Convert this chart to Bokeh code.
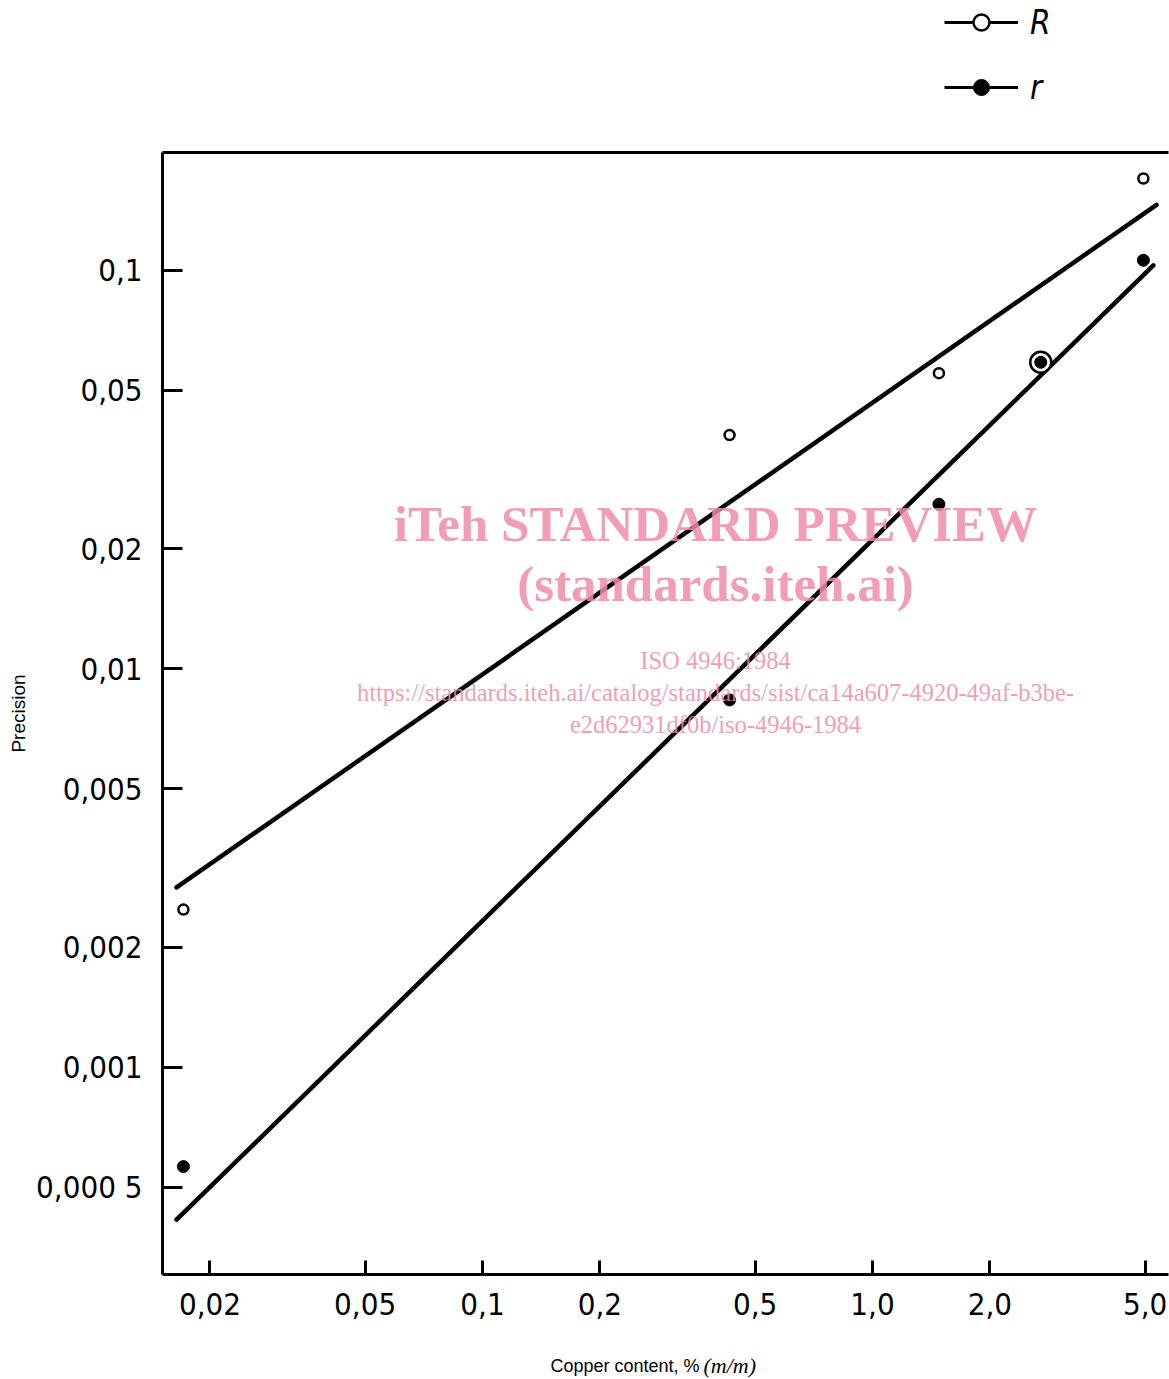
import math
from bokeh.plotting import figure
from bokeh.layouts import column
from bokeh.models import Range1d, FixedTicker, LogAxis, Legend, LegendItem, Label
from bokeh.embed import file_html
from bokeh.resources import INLINE

# ---------------- data ----------------
R_conc = [0.0171, 0.43, 1.48, 2.70, 4.95]          # copper content, % (m/m)
R_prec = [0.00249, 0.0386, 0.0552, 0.0588, 0.170]  # reproducibility R
r_conc = [0.0171, 0.43, 1.48, 2.70, 4.95]
r_prec = [0.000564, 0.00836, 0.0259, 0.0588, 0.106]  # repeatability r

R_fit_x = [0.01642, 5.35]
R_fit_y = [0.00283, 0.146]
r_fit_x = [0.01642, 5.25]
r_fit_y = [0.000415, 0.1029]

x_ticks = [0.02, 0.05, 0.1, 0.2, 0.5, 1.0, 2.0, 5.0]
x_tick_labels = ["0,02", "0,05", "0,1", "0,2", "0,5", "1,0", "2,0", "5,0"]
y_ticks = [0.0005, 0.001, 0.002, 0.005, 0.01, 0.02, 0.05, 0.1]
y_tick_labels = ["0,000 5", "0,001", "0,002", "0,005", "0,01", "0,02", "0,05", "0,1"]

X_LO, X_HI = 0.015113, 5.7413
Y_LO, Y_HI = 0.0003024, 0.19754

# ---------------- layout geometry (page pixels) ----------------
W = 1169
FL, FR, FT, FB = 162, 1168, 152, 1274   # frame edges on the page
HEAD_H = 140                            # legend strip
TOP_B = FT - HEAD_H                     # main figure top border
MAIN_BOTTOM = 1340                      # main figure ends here
FOOT_H = 1379 - MAIN_BOTTOM
MAIN_H = MAIN_BOTTOM - HEAD_H

TICK_FONT = "DejaVu Sans Condensed"


def ax(px):
    return X_LO * 10 ** ((px - FL) / (FR - FL) * math.log10(X_HI / X_LO))


def ay(py):
    return Y_LO * 10 ** ((FB - py) / (FB - FT) * math.log10(Y_HI / Y_LO))


def blank(h):
    # frame is aligned with the main plot's frame by the column layout,
    # so give it the same side borders and a page-pixel range
    f = figure(width=W, height=h, x_range=Range1d(FL, FR), y_range=Range1d(h, 0),
               output_backend="svg", toolbar_location=None,
               x_axis_location=None, y_axis_location=None,
               min_border_left=FL, min_border_right=W - FR,
               min_border_top=0, min_border_bottom=0)
    f.outline_line_color = None
    f.xgrid.visible = False
    f.ygrid.visible = False
    f.background_fill_color = "white"
    f.border_fill_color = "white"
    return f


# ---------------- main plot ----------------
p = figure(width=W, height=MAIN_H, x_axis_type="log", y_axis_type="log",
           x_range=Range1d(X_LO, X_HI), y_range=Range1d(Y_LO, Y_HI),
           output_backend="svg", toolbar_location=None,
           min_border_left=FL, min_border_top=TOP_B,
           min_border_right=W - FR, min_border_bottom=MAIN_BOTTOM - FB)
p.outline_line_color = None
p.background_fill_color = "white"
p.border_fill_color = "white"
p.xgrid.visible = False
p.ygrid.visible = False

xa = p.xaxis[0]
xa.ticker = FixedTicker(ticks=x_ticks, minor_ticks=[])
xa.major_label_overrides = {t: l for t, l in zip(x_ticks, x_tick_labels)}
xa.major_tick_in = 14
xa.major_tick_out = 0
xa.major_tick_line_width = 3
xa.axis_line_width = 3
xa.major_label_text_font = TICK_FONT
xa.major_label_text_font_size = "31px"
xa.major_label_text_color = "black"
xa.major_label_standoff = 18
xa.axis_label = None

ya = p.yaxis[0]
ya.ticker = FixedTicker(ticks=y_ticks, minor_ticks=[])
ya.major_label_overrides = {t: l for t, l in zip(y_ticks, y_tick_labels)}
ya.major_tick_in = 20
ya.major_tick_out = 0
ya.major_tick_line_width = 3
ya.axis_line_width = 3
ya.major_label_text_font = TICK_FONT
ya.major_label_text_font_size = "31px"
ya.major_label_text_color = "black"
ya.major_label_standoff = 20
ya.axis_label = "Precision"
ya.axis_label_text_font = "Liberation Sans"
ya.axis_label_text_font_size = "19px"
ya.axis_label_text_font_style = "normal"
ya.axis_label_text_color = "black"
ya.axis_label_standoff = 4

top = LogAxis(ticker=FixedTicker(ticks=[], minor_ticks=[]), axis_line_width=3,
              major_tick_line_color=None, minor_tick_line_color=None,
              major_tick_out=0, minor_tick_out=0, major_tick_in=0, minor_tick_in=0,
              major_label_standoff=0, major_label_text_font_size="0px")
p.add_layout(top, "above")

p.line(R_fit_x, R_fit_y, line_color="black", line_width=4.5, line_cap="round")
p.line(r_fit_x, r_fit_y, line_color="black", line_width=4.5, line_cap="round")

pairs_r = set(zip(r_conc, r_prec))
R_size = [21 if (x, y) in pairs_r else 10 for x, y in zip(R_conc, R_prec)]
p.scatter(R_conc, R_prec, size=R_size, marker="circle", fill_color="white",
          line_color="black", line_width=2.5)
p.scatter(r_conc, r_prec, size=12, marker="circle", fill_color="black",
          line_color="black", line_width=1)

# watermark
WM = "#ee8ca8"
for txt, py, size, style in [("iTeh STANDARD PREVIEW", 523, "51px", "bold"),
                             ("(standards.iteh.ai)", 583, "51px", "bold"),
                             ("ISO 4946:1984", 660, "24.5px", "normal"),
                             ("https://standards.iteh.ai/catalog/standards/sist/ca14a607-4920-49af-b3be-", 692, "24.5px", "normal"),
                             ("e2d62931df0b/iso-4946-1984", 724, "24.5px", "normal")]:
    p.add_layout(Label(x=ax(715), y=ay(py), text=txt, text_font="Liberation Serif",
                       text_font_size=size, text_font_style=style,
                       text_align="center", text_baseline="middle",
                       text_color=WM, text_alpha=0.85))

# ---------------- legend strip ----------------
# key renderers hold the series values, which fall outside this strip's
# pixel range (left of its frame), so only their legend keys are seen
head = blank(HEAD_H)
hl_R = head.line(R_conc, R_prec, line_color="black", line_width=3)
hs_R = head.scatter(R_conc, R_prec, size=10, marker="circle", fill_color="white",
                    line_color="black", line_width=2.5)
hl_r = head.line(r_conc, r_prec, line_color="black", line_width=3)
hs_r = head.scatter(r_conc, r_prec, size=12, marker="circle", fill_color="black",
                    line_color="black", line_width=1)
legend = Legend(items=[LegendItem(label="R", renderers=[hl_R, hs_R]),
                       LegendItem(label="r", renderers=[hl_r, hs_r])],
                location=(944 - FL, HEAD_H - 2 - 105), orientation="vertical",
                glyph_width=74, glyph_height=40, label_height=40, label_standoff=12,
                spacing=25, padding=0, margin=0,
                border_line_color=None, background_fill_alpha=0,
                label_text_font=TICK_FONT, label_text_font_size="33px",
                label_text_font_style="italic", label_text_color="black")
head.add_layout(legend, "center")

# ---------------- x axis title strip ----------------
foot = blank(FOOT_H)
foot.add_layout(Label(x=699, y=1365 - MAIN_BOTTOM, text="Copper content, %",
                      text_font="Liberation Sans", text_font_size="18px",
                      text_align="right", text_baseline="middle", text_color="black"))
foot.add_layout(Label(x=703, y=1365 - MAIN_BOTTOM, text="(m/m)",
                      text_font="Liberation Serif", text_font_size="22px",
                      text_font_style="italic",
                      text_align="left", text_baseline="middle", text_color="black"))

layout = column(head, p, foot, spacing=0)
open("out.html", "w").write(file_html(layout, INLINE))
